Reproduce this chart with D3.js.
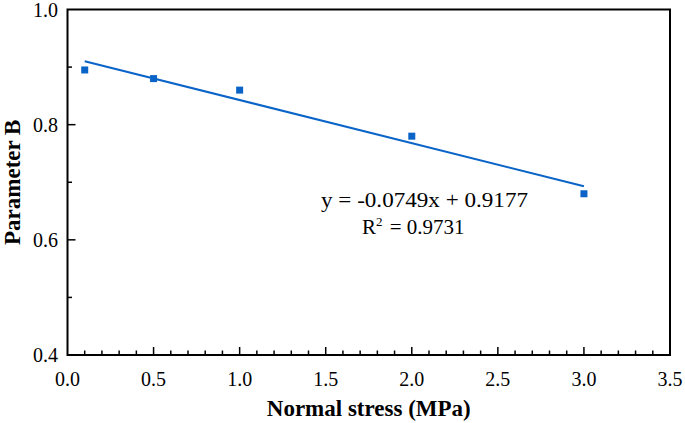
<!DOCTYPE html>
<html>
<head>
<meta charset="utf-8">
<script src="https://cdn.jsdelivr.net/npm/d3@7"></script>
<style>
  html, body { margin: 0; padding: 0; background: #fff; }
  svg { display: block; }
</style>
</head>
<body>
<svg id="chart" width="685" height="423"></svg>
<script>
// Data
const stressValues = [0.1, 0.5, 1.0, 2.0, 3.0];
const paramB = [0.895, 0.880, 0.860, 0.780, 0.680];
const fitSlope = -0.0749;
const fitIntercept = 0.9177;
const fitR2 = 0.9731;
const xTicks = [0.0, 0.5, 1.0, 1.5, 2.0, 2.5, 3.0, 3.5];
const yTicks = [0.4, 0.6, 0.8, 1.0];
const xDomain = [0, 3.5];
const yDomain = [0.4, 1.0];

const svg = d3.select("#chart");
const m = { left: 67.5, right: 670, top: 9.5, bottom: 355 };
const x = d3.scaleLinear().domain(xDomain).range([m.left, m.right]);
const y = d3.scaleLinear().domain(yDomain).range([m.bottom, m.top]);

const blue = "#0a64c8";
const serif = "'Liberation Serif', 'Times New Roman', serif";

// Frame
svg.append("rect")
  .attr("x", m.left).attr("y", m.top)
  .attr("width", m.right - m.left).attr("height", m.bottom - m.top)
  .attr("fill", "none").attr("stroke", "#000").attr("stroke-width", 2);

// X ticks (inward)
const xMinor = d3.range(1, 35).map(i => i / 10).filter(v => Math.abs(v * 2 - Math.round(v * 2)) > 1e-6);
const gx = svg.append("g");
gx.selectAll("line.maj").data(xTicks.slice(1, -1)).join("line")
  .attr("x1", d => x(d)).attr("x2", d => x(d))
  .attr("y1", m.bottom).attr("y2", m.bottom - 8)
  .attr("stroke", "#000").attr("stroke-width", 1.5);
gx.selectAll("line.min").data(xMinor).join("line")
  .attr("x1", d => x(d)).attr("x2", d => x(d))
  .attr("y1", m.bottom).attr("y2", m.bottom - 4.5)
  .attr("stroke", "#000").attr("stroke-width", 1.5);
gx.selectAll("text").data(xTicks).join("text")
  .attr("x", d => x(d)).attr("y", 386)
  .attr("text-anchor", "middle")
  .attr("font-family", serif).attr("font-size", 20)
  .text(d => d.toFixed(1));

// Y ticks (inward)
const yMinor = [0.5, 0.7, 0.9];
const gy = svg.append("g");
gy.selectAll("line.maj").data(yTicks.slice(1, -1)).join("line")
  .attr("x1", m.left).attr("x2", m.left + 8)
  .attr("y1", d => y(d)).attr("y2", d => y(d))
  .attr("stroke", "#000").attr("stroke-width", 1.5);
gy.selectAll("line.min").data(yMinor).join("line")
  .attr("x1", m.left).attr("x2", m.left + 4.5)
  .attr("y1", d => y(d)).attr("y2", d => y(d))
  .attr("stroke", "#000").attr("stroke-width", 1.5);
gy.selectAll("text").data(yTicks).join("text")
  .attr("x", 58).attr("y", d => y(d))
  .attr("dy", "0.35em")
  .attr("text-anchor", "end")
  .attr("font-family", serif).attr("font-size", 20)
  .text(d => d.toFixed(1));

// Trend line
const xs = [stressValues[0], stressValues[stressValues.length - 1]];
svg.append("line")
  .attr("x1", x(xs[0])).attr("y1", y(fitSlope * xs[0] + fitIntercept))
  .attr("x2", x(xs[1])).attr("y2", y(fitSlope * xs[1] + fitIntercept))
  .attr("stroke", blue).attr("stroke-width", 2);

// Points
const s = 7;
svg.selectAll("rect.pt").data(stressValues).join("rect")
  .attr("class", "pt")
  .attr("x", (d) => x(d) - s / 2)
  .attr("y", (d, i) => y(paramB[i]) - s / 2)
  .attr("width", s).attr("height", s)
  .attr("fill", blue);

// Equation
svg.append("text")
  .attr("x", 321).attr("y", 207)
  .attr("font-family", serif).attr("font-size", 21)
  .attr("textLength", 207).attr("lengthAdjust", "spacingAndGlyphs")
  .text(`y = ${fitSlope}x + ${fitIntercept}`);
const r2 = svg.append("text")
  .attr("x", 362).attr("y", 234)
  .attr("font-family", serif).attr("font-size", 21);
r2.append("tspan").text("R");
r2.append("tspan").attr("dy", -8).attr("font-size", 13).text("2");
r2.append("tspan").attr("dy", 8).attr("dx", 2).text(` = ${fitR2}`);

// Axis titles
svg.append("text")
  .attr("x", (m.left + m.right) / 2).attr("y", 416)
  .attr("text-anchor", "middle")
  .attr("font-family", serif).attr("font-size", 23).attr("font-weight", "bold")
  .text("Normal stress (MPa)");
svg.append("text")
  .attr("transform", `translate(20, ${(m.top + m.bottom) / 2}) rotate(-90)`)
  .attr("text-anchor", "middle")
  .attr("font-family", serif).attr("font-size", 23).attr("font-weight", "bold")
  .text("Parameter B");
</script>
</body>
</html>
